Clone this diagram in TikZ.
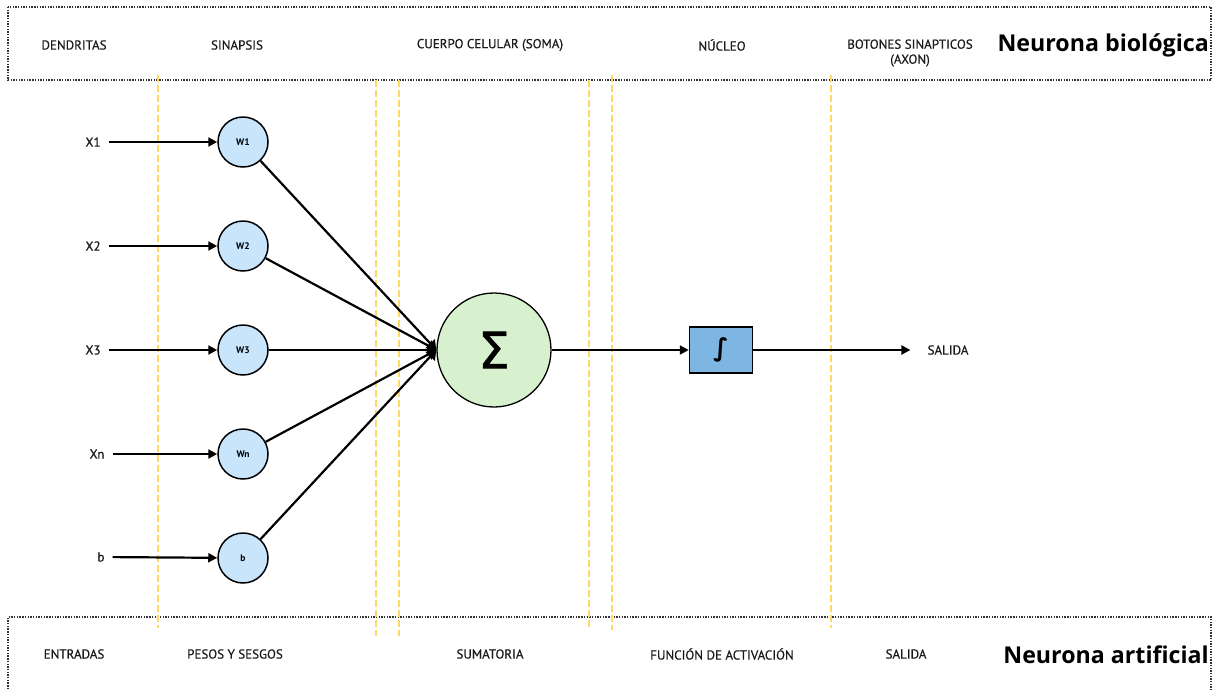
\documentclass[tikz,border=0pt]{standalone}
\usepackage{fontspec}
\setmainfont{PT Sans}
\newfontfamily\labfont[FakeBold=0.5]{PT Sans}
\newfontfamily\titlefont{Open Sans}
\newfontfamily\symfont{DejaVu Sans}
\newfontfamily\symfontb[FakeBold=1.2]{DejaVu Sans}
\usetikzlibrary{arrows.meta}
\definecolor{ylw}{HTML}{FFD966}
\definecolor{wfill}{HTML}{C9E5FC}
\definecolor{sfill}{HTML}{D7F1CF}
\definecolor{bxfill}{HTML}{7DB6E2}
\definecolor{dotc}{HTML}{333333}
\definecolor{txt}{HTML}{1A1A1A}
\tikzset{
  dotbox/.style={draw=dotc, line width=1.4pt, dash pattern=on 1.4pt off 1.3pt},
  ydash/.style={draw=ylw, line width=2pt, dash pattern=on 7pt off 3pt},
  lab/.style={font=\labfont\fontsize{13}{14}\selectfont, text=txt, inner sep=0pt},
  inlab/.style={font=\labfont\fontsize{13}{14}\selectfont, text=txt, inner ysep=0pt, inner xsep=8pt},
  title/.style={font=\titlefont\bfseries\fontsize{23.2}{25}\selectfont, inner sep=0pt, anchor=east},
  wc/.style={circle, draw=black, line width=1.5pt, fill=wfill, minimum size=50pt, inner sep=0pt, font=\bfseries\fontsize{9.5}{10}\selectfont},
  sc/.style={circle, draw=black, line width=1.3pt, fill=sfill, minimum size=114pt, inner sep=0pt},
  bx/.style={rectangle, draw=black, line width=1.5pt, fill=bxfill, minimum width=63pt, minimum height=46pt, inner sep=0pt},
  arr/.style={draw=black, line width=2.2pt, -{Triangle[length=9pt,width=9pt]}},
  arrs/.style={draw=black, line width=2.2pt, -{Triangle[length=9pt,width=12pt]}}
}
\begin{document}
\begin{tikzpicture}[x=1pt,y=-1pt]
\useasboundingbox (0,0) rectangle (1217,689);
\begin{scope}
\clip (0,0) rectangle (1217,689);
\draw[dotbox] (8,7) rectangle (1211,80);
\draw[dotbox] (8,700) -- (8,617) -- (1211,617) -- (1211,700);
\end{scope}
% yellow separators
\draw[ydash] (158,75) -- (158,628);
\draw[ydash] (376,80) -- (376,636);
\draw[ydash] (399,80) -- (399,636);
\draw[ydash] (589,80) -- (589,630);
\draw[ydash] (612,75) -- (612,630);
\draw[ydash] (831,75) -- (831,628);
% top labels
\node[lab] (tdend) at (74,45) {DENDRITAS};
\node[lab] (tsin) at (237,45) {SINAPSIS};
\node[lab] (tsoma) at (490,45) {CUERPO CELULAR (SOMA)};
\node[lab] (tnuc) at (722,45) {NÚCLEO};
\node[lab, align=center] (tbot) at (910,53) {BOTONES SINAPTICOS\\[1pt](AXON)};
\node[title] (tbio) at (1209,45) {Neurona biológica};
% bottom labels
\node[lab] (bent) at (74,654) {ENTRADAS};
\node[lab] (bpes) at (235,654) {PESOS Y SESGOS};
\node[lab] (bsum) at (490,654) {SUMATORIA};
\node[lab] (bfun) at (722,654) {FUNCIÓN DE ACTIVACIÓN};
\node[lab] (bsal) at (906,654) {SALIDA};
\node[title] (tart) at (1209,655) {Neurona artificial};
% inputs
\node[inlab] (x1) at (93,142) {X1};
\node[inlab] (x2) at (93,246) {X2};
\node[inlab] (x3) at (93,350) {X3};
\node[inlab] (xn) at (97,454) {Xn};
\node[inlab] (xb) at (101,557) {b};
% weights
\node[wc] (w1) at (243,142) {W1};
\node[wc] (w2) at (243,246) {W2};
\node[wc] (w3) at (243,350) {W3};
\node[wc] (wn) at (243,454) {Wn};
\node[wc] (wb) at (243,558) {b};
% sum and activation
\node[sc] (s) at (494,350) {\raisebox{-5pt}{\symfontb\fontsize{50}{52}\selectfont Σ}};
\node[bx] (f) at (721,350) {\raisebox{-3pt}{\symfont\bfseries\fontsize{25}{26}\selectfont ∫}};
\node[lab, inner xsep=17pt] (out) at (948,350) {SALIDA};
% connectors
\draw[arr] (x1) -- (w1);
\draw[arr] (x2) -- (w2);
\draw[arr] (x3) -- (w3);
\draw[arr] (xn) -- (wn);
\draw[arr] (xb) -- (wb);
\draw[arrs] (w1) -- (s.west);
\draw[arrs] (w2) -- (s.west);
\draw[arrs] (w3) -- (s.west);
\draw[arrs] (wn) -- (s.west);
\draw[arrs] (wb) -- (s.west);
\draw[arr] (s) -- (f);
\draw[arr] (f) -- (out);
\end{tikzpicture}
\end{document}
